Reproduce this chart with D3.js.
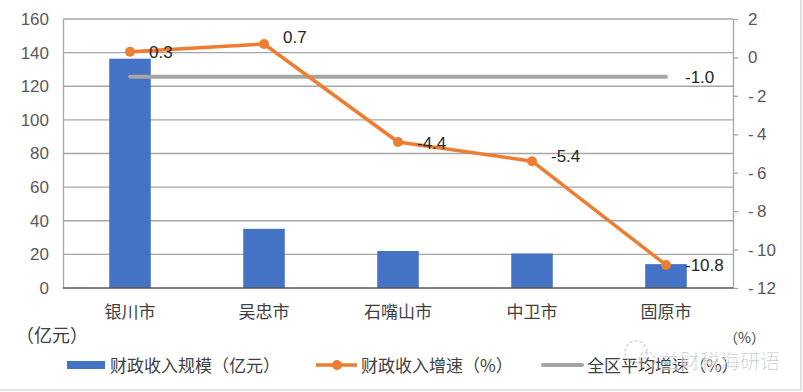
<!DOCTYPE html>
<html>
<head>
<meta charset="utf-8">
<script src="https://cdn.jsdelivr.net/npm/d3@7"></script>
<style>
  html, body { margin:0; padding:0; background:#fff; }
  svg { display:block; }
</style>
</head>
<body>
<svg id="chart" width="803" height="392"></svg>
<script>
/* ---------- data ---------- */
const cities   = ['银川市', '吴忠市', '石嘴山市', '中卫市', '固原市'];
const revenue  = [136.4, 35.2, 22.0, 20.5, 14.2];     // 亿元
const growth   = [0.3, 0.7, -4.4, -5.4, -10.8];       // %
const avgGrowth = [-1.0, -1.0, -1.0, -1.0, -1.0];     // %
const leftTicks  = [0, 20, 40, 60, 80, 100, 120, 140, 160];
const rightTicks = [2, 0, -2, -4, -6, -8, -10, -12];
const legendNames = ['财政收入规模（亿元）', '财政收入增速（%）', '全区平均增速（%）'];

/* ---------- colors / fonts ---------- */
const C_BAR = '#4472C4', C_LINE = '#ED7D31', C_AVG = '#A5A5A5';
const FONT = "'Liberation Sans','Noto Sans CJK SC',sans-serif";
const CJK  = "'Noto Sans CJK SC','Liberation Sans',sans-serif";

const svg = d3.select('#chart');
const plot = { left:63, right:733, top:19, bottom:288 };

const x  = d3.scaleBand().domain(cities).range([plot.left, plot.right]).padding(0);
const yL = d3.scaleLinear().domain([0, 160]).range([plot.bottom, plot.top]);
const yR = d3.scaleLinear().domain([-12, 2]).range([plot.bottom, plot.top]);
const cx = d => x(d) + x.bandwidth() / 2;
const fmt = d => d < 0 ? '-' + Math.abs(d).toFixed(1) : d.toFixed(1);

// frame
svg.append('rect').attr('x', -2).attr('y', -2).attr('width', 803).attr('height', 392)
  .style('fill', 'none').style('stroke', '#d9d9d9').style('stroke-width', 1.5);

// gridlines (left axis)
svg.append('g').selectAll('line').data(leftTicks.filter(t => t > 0)).join('line')
  .attr('x1', plot.left).attr('x2', plot.right)
  .attr('y1', d => yL(d)).attr('y2', d => yL(d))
  .style('stroke', '#a6a6a6').style('stroke-width', 1.3);

// left axis
const leftAxis = svg.append('g').attr('transform', `translate(${plot.left},0)`)
  .call(d3.axisLeft(yL).tickValues(leftTicks).tickSize(0).tickPadding(14));
leftAxis.select('.domain').style('stroke', '#a6a6a6').style('stroke-width', 1.3);
leftAxis.selectAll('text').style('font-family', FONT).style('font-size', '17px').style('fill', '#595959');

// right axis
const rightAxis = svg.append('g').attr('transform', `translate(${plot.right},0)`)
  .call(d3.axisRight(yR).tickValues(rightTicks).tickSizeInner(5).tickSizeOuter(0).tickPadding(10)
    .tickFormat(d => d < 0 ? '-\u2009' + Math.abs(d) : d));
rightAxis.selectAll('.domain, line').style('stroke', '#a6a6a6').style('stroke-width', 1.3);
rightAxis.selectAll('text').style('font-family', FONT).style('font-size', '17px').style('fill', '#595959');

// bars
const barW = x.bandwidth() * 0.31;
svg.append('g').selectAll('rect').data(cities).join('rect')
  .attr('x', d => cx(d) - barW / 2)
  .attr('width', barW)
  .attr('y', (d, i) => yL(revenue[i]))
  .attr('height', (d, i) => yL(0) - yL(revenue[i]))
  .style('fill', C_BAR);

// bottom axis line
svg.append('line').attr('x1', plot.left).attr('x2', plot.right)
  .attr('y1', plot.bottom).attr('y2', plot.bottom)
  .style('stroke', '#595959').style('stroke-width', 1.3);

// category labels
svg.append('g').selectAll('text').data(cities).join('text')
  .attr('x', d => cx(d)).attr('y', 318)
  .attr('text-anchor', 'middle')
  .style('font-family', CJK).style('font-size', '17px').style('fill', '#404040')
  .text(d => d);

// average line
const lineGen = d3.line().x((d, i) => cx(cities[i])).y(d => yR(d));
svg.append('path').datum(avgGrowth).attr('d', lineGen)
  .style('fill', 'none').style('stroke', C_AVG).style('stroke-width', 4).style('stroke-linecap', 'round');
svg.append('text')
  .attr('x', cx(cities[4]) + 19).attr('y', yR(avgGrowth[4]) + 6)
  .style('font-family', FONT).style('font-size', '17px').style('fill', '#262626')
  .text(fmt(avgGrowth[4]));

// growth line
svg.append('path').datum(growth).attr('d', lineGen)
  .style('fill', 'none').style('stroke', C_LINE).style('stroke-width', 3.5).style('stroke-linejoin', 'round');
svg.append('g').selectAll('circle').data(growth).join('circle')
  .attr('cx', (d, i) => cx(cities[i])).attr('cy', d => yR(d)).attr('r', 5)
  .style('fill', C_LINE);

// data labels
const labelDy = [6, -1, 7, 1, 6];
svg.append('g').selectAll('text').data(growth).join('text')
  .attr('x', (d, i) => cx(cities[i]) + 19)
  .attr('y', (d, i) => yR(d) + labelDy[i])
  .style('font-family', FONT).style('font-size', '17px').style('fill', '#262626')
  .text(fmt);

// unit labels
svg.append('text').attr('x', 16).attr('y', 342)
  .style('font-family', CJK).style('font-size', '18px').style('fill', '#404040')
  .text('（亿元）');
svg.append('text').attr('x', 724).attr('y', 343)
  .style('font-family', CJK).style('font-size', '14px').style('fill', '#404040')
  .text('（%）');

// legend
const lg = svg.append('g').style('font-family', CJK).style('font-size', '17px').style('fill', '#404040');
lg.append('rect').attr('x', 67).attr('y', 361).attr('width', 38).attr('height', 8).style('fill', C_BAR);
lg.append('text').attr('x', 110).attr('y', 372).text(legendNames[0]);
lg.append('line').attr('x1', 316).attr('x2', 357).attr('y1', 365).attr('y2', 365)
  .style('stroke', C_LINE).style('stroke-width', 3.5);
lg.append('circle').attr('cx', 337).attr('cy', 365).attr('r', 5).style('fill', C_LINE);
lg.append('text').attr('x', 361).attr('y', 372).text(legendNames[1]);
lg.append('line').attr('x1', 543).attr('x2', 582).attr('y1', 365).attr('y2', 365)
  .style('stroke', C_AVG).style('stroke-width', 4).style('stroke-linecap', 'round');
lg.append('text').attr('x', 587).attr('y', 372).text(legendNames[2]);

// watermark
const wm = svg.append('g').style('opacity', 0.75);
wm.append('circle').attr('cx', 636).attr('cy', 352).attr('r', 11)
  .style('fill', 'none').style('stroke', '#c8c8c8').style('stroke-width', 1.5).style('stroke-dasharray', '3,2');
wm.append('circle').attr('cx', 647).attr('cy', 360).attr('r', 8)
  .style('fill', 'none').style('stroke', '#c8c8c8').style('stroke-width', 1.5).style('stroke-dasharray', '3,2');
wm.append('text').attr('x', 660).attr('y', 369)
  .style('font-family', CJK).style('font-size', '20px').style('fill', '#b4b4b4')
  .style('stroke', '#fff').style('stroke-width', 0.6)
  .text('兰财税海研语');
</script>
</body>
</html>
